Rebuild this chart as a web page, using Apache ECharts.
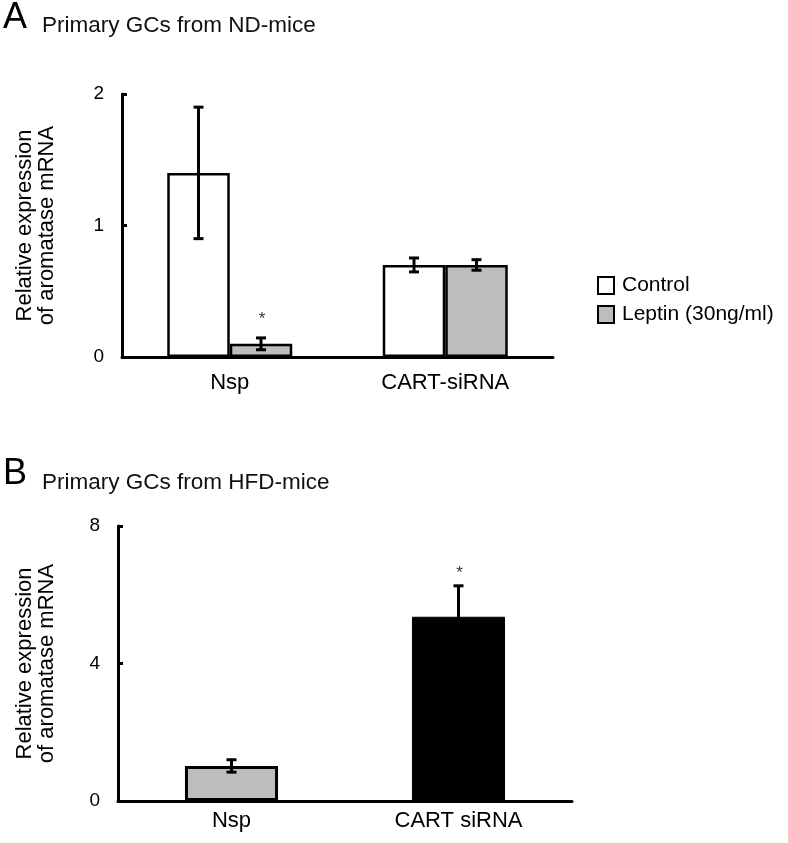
<!DOCTYPE html>
<html>
<head>
<meta charset="utf-8">
<script src="https://cdn.jsdelivr.net/npm/echarts@6/dist/echarts.min.js"></script>
<style>
html,body{margin:0;padding:0;background:#fff;}
#chart{width:788px;height:843px;}
</style>
</head>
<body>
<div id="chart"></div>
<script>
// ---- Data ----
const categoriesA = ['Nsp', 'CART-siRNA'];
const controlA = [1.40, 0.70];
const controlErrA = [0.50, 0.053];
const leptinA = [0.10, 0.70];
const leptinErrA = [0.045, 0.04];
const leptinSigA = ['*', ''];
const yTicksA = [0, 1, 2];

const categoriesB = ['Nsp', 'CART siRNA'];
const valuesB = [1.02, 5.36];
const errB = [0.18, 0.90];
const sigB = ['', '*'];
const yTicksB = [0, 4, 8];

const FONT = '"Liberation Sans", Arial, sans-serif';
const GRAY = '#bdbdbd';

function errRender(offsetFrac, sig, sigGap) {
  return function (params, api) {
    const idx = api.value(0), v = api.value(1), e = api.value(2);
    const catW = api.size([1, 0])[0];
    const x = api.coord([idx, 0])[0] + offsetFrac * catW;
    const yt = api.coord([idx, v + e])[1];
    const yb = api.coord([idx, v - e])[1];
    const cap = 5;
    const st = { stroke: '#000', lineWidth: 3 };
    const children = [
      { type: 'line', shape: { x1: x, y1: yt, x2: x, y2: yb }, style: st },
      { type: 'line', shape: { x1: x - cap, y1: yt, x2: x + cap, y2: yt }, style: st },
      { type: 'line', shape: { x1: x - cap, y1: yb, x2: x + cap, y2: yb }, style: st }
    ];
    const s = sig[params.dataIndex];
    if (s) {
      children.push({ type: 'text', style: { text: s, x: x + 1, y: yt - sigGap, fill: '#333', fontSize: 17, fontFamily: FONT, align: 'center', verticalAlign: 'middle' } });
    }
    return { type: 'group', children: children };
  };
}

const noSig = ['', ''];

const chart = echarts.init(document.getElementById('chart'), null, { renderer: 'canvas' });

const yAxisCommon = (ticks, gap) => ({
  type: 'value',
  min: ticks[0], max: ticks[ticks.length - 1], interval: ticks[1] - ticks[0],
  name: 'Relative expression\nof aromatase mRNA',
  nameLocation: 'middle', nameGap: gap, nameRotate: 90,
  nameTextStyle: { fontFamily: FONT, fontSize: 22, color: '#000', lineHeight: 22 },
  axisLine: { show: true, lineStyle: { color: '#000', width: 3 } },
  axisTick: { show: true, inside: true, length: 5, lineStyle: { color: '#000', width: 3 } },
  axisLabel: { fontFamily: FONT, fontSize: 19, color: '#000', margin: 18, padding: [4, 0, 0, 0] },
  splitLine: { show: false }
});

const xAxisCommon = (cats, margin) => ({
  type: 'category', data: cats,
  axisLine: { show: true, lineStyle: { color: '#000', width: 3 } },
  axisTick: { show: false },
  axisLabel: { fontFamily: FONT, fontSize: 22, color: '#000', margin: margin },
  splitLine: { show: false }
});

const option = {
  animation: false,
  backgroundColor: '#fff',
  title: [
    { text: 'A', left: 3, top: 0, padding: 0, textStyle: { fontFamily: FONT, fontSize: 36, fontWeight: 'normal', color: '#000' } },
    { text: 'Primary GCs from ND-mice', left: 42, top: 14, padding: 0, textStyle: { fontFamily: FONT, fontSize: 22.5, fontWeight: 'normal', color: '#111' } },
    { text: 'B', left: 3, top: 456, padding: 0, textStyle: { fontFamily: FONT, fontSize: 36, fontWeight: 'normal', color: '#000' } },
    { text: 'Primary GCs from HFD-mice', left: 42, top: 471, padding: 0, textStyle: { fontFamily: FONT, fontSize: 22.5, fontWeight: 'normal', color: '#111' } }
  ],
  legend: {
    data: ['Control', 'Leptin (30ng/ml)'],
    orient: 'vertical', left: 597, top: 275, padding: 0,
    icon: 'rect', itemWidth: 16, itemHeight: 17, itemGap: 8,
    textStyle: { fontFamily: FONT, fontSize: 21, color: '#000', padding: [0, 0, 0, 3] }
  },
  grid: [
    { left: 122, top: 94, width: 431, height: 263 },
    { left: 118, top: 526, width: 454, height: 275 }
  ],
  xAxis: [
    Object.assign(xAxisCommon(categoriesA, 15), { gridIndex: 0 }),
    Object.assign(xAxisCommon(categoriesB, 9), { gridIndex: 1 })
  ],
  yAxis: [
    Object.assign(yAxisCommon(yTicksA, 64), { gridIndex: 0 }),
    Object.assign(yAxisCommon(yTicksB, 60), { gridIndex: 1 })
  ],
  series: [
    {
      name: 'Control', type: 'bar', xAxisIndex: 0, yAxisIndex: 0,
      data: controlA, barWidth: '29%', barGap: '0%',
      itemStyle: { color: '#fff', borderColor: '#000', borderWidth: 2.5 }
    },
    {
      name: 'Leptin (30ng/ml)', type: 'bar', xAxisIndex: 0, yAxisIndex: 0,
      data: leptinA, barWidth: '29%', barGap: '0%',
      itemStyle: { color: GRAY, borderColor: '#000', borderWidth: 2.5 }
    },
    {
      name: 'errControlA', type: 'custom', xAxisIndex: 0, yAxisIndex: 0, z: 5,
      renderItem: errRender(-0.145, noSig, 0),
      data: controlA.map((v, i) => [i, v, controlErrA[i]])
    },
    {
      name: 'errLeptinA', type: 'custom', xAxisIndex: 0, yAxisIndex: 0, z: 5,
      renderItem: errRender(0.145, leptinSigA, 19),
      data: leptinA.map((v, i) => [i, v, leptinErrA[i]])
    },
    {
      name: 'B', type: 'bar', xAxisIndex: 1, yAxisIndex: 1,
      data: valuesB.map((v, i) => ({
        value: v,
        itemStyle: i === 0 ? { color: GRAY, borderColor: '#000', borderWidth: 3 } : { color: '#000', borderColor: '#000', borderWidth: 1 }
      })),
      barWidth: '41%'
    },
    {
      name: 'errB', type: 'custom', xAxisIndex: 1, yAxisIndex: 1, z: 5,
      renderItem: errRender(0, sigB, 13),
      data: valuesB.map((v, i) => [i, v, errB[i]])
    }
  ]
};
chart.setOption(option);
</script>
</body>
</html>
